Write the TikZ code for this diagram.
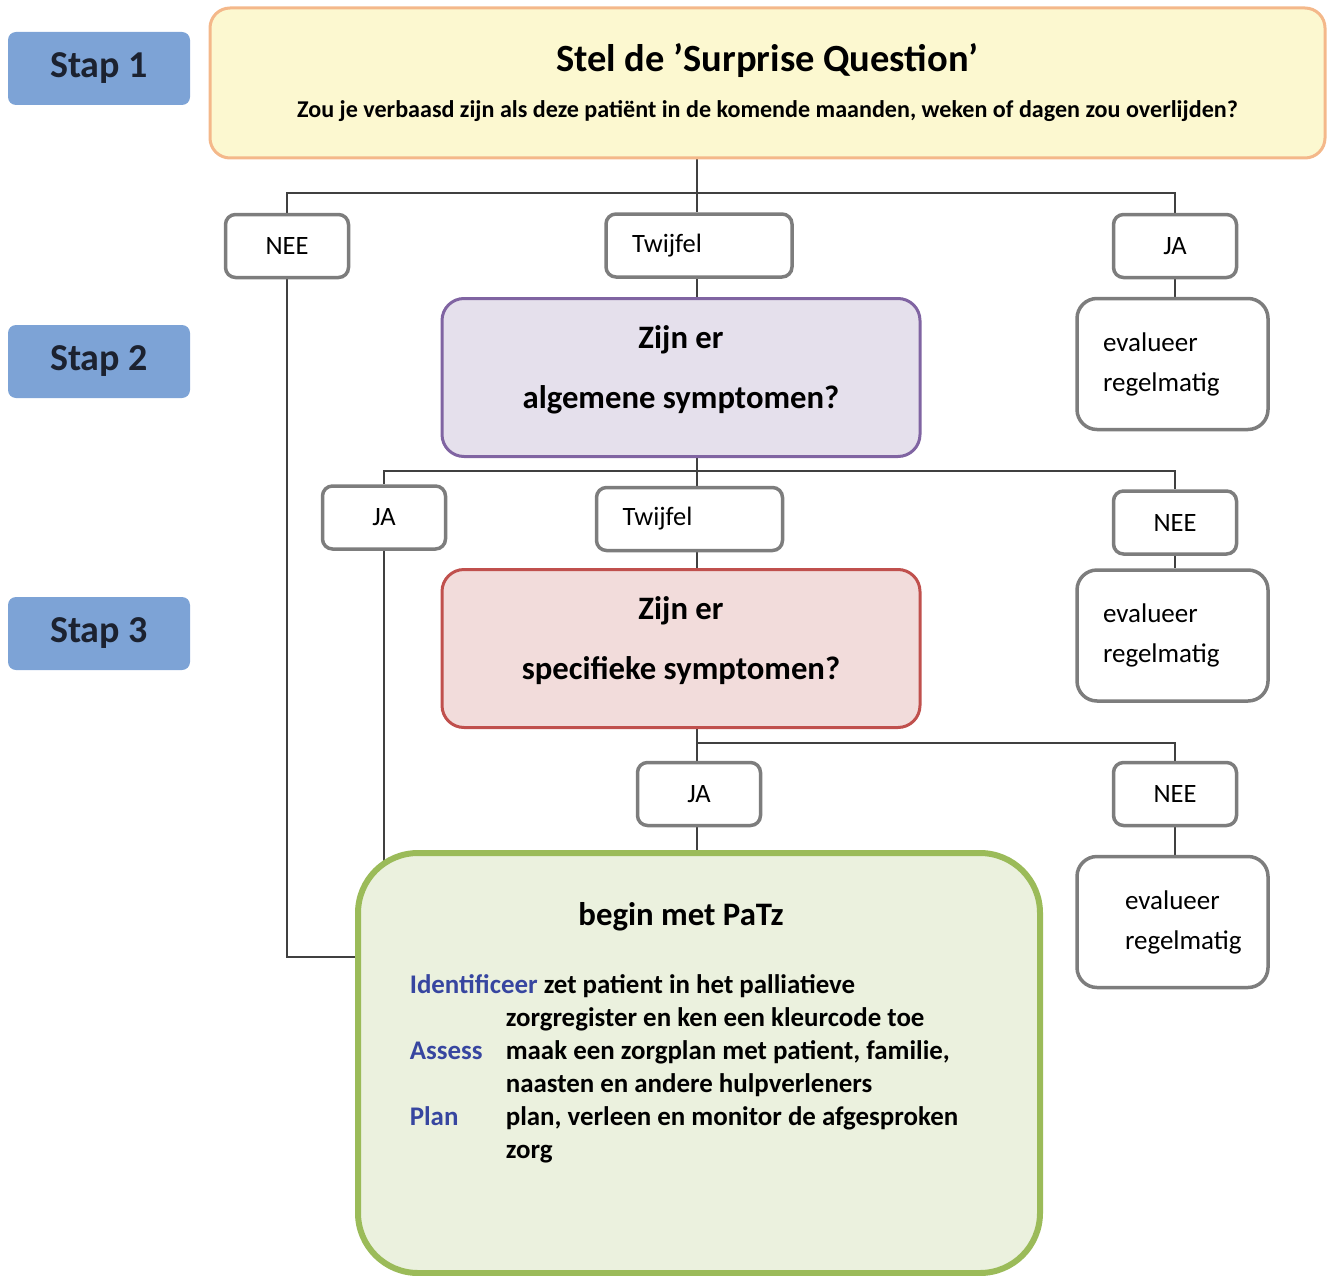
\documentclass[tikz,border=0pt]{standalone}
\usepackage{fontspec}
\setmainfont{Carlito}
\usepackage{xcolor}
\usepackage{tikz}
\usetikzlibrary{positioning,backgrounds}

\definecolor{stapblue}{RGB}{125,163,214}
\definecolor{stapink}{RGB}{28,34,48}
\definecolor{qyellow}{RGB}{252,248,208}
\definecolor{qorange}{RGB}{244,184,138}
\definecolor{qlila}{RGB}{229,224,236}
\definecolor{qpurple}{RGB}{128,100,162}
\definecolor{qpink}{RGB}{242,220,219}
\definecolor{qred}{RGB}{192,80,77}
\definecolor{patzfill}{RGB}{235,241,222}
\definecolor{patzgreen}{RGB}{155,187,89}
\definecolor{boxgray}{RGB}{125,125,125}
\definecolor{linegray}{RGB}{64,64,64}
\definecolor{pazblue}{RGB}{55,70,160}

\newcommand{\pxsize}[2]{\fontsize{#1}{#2}\selectfont}

\begin{document}
\begin{tikzpicture}[x=1pt, y=-1pt,
  stapbox/.style={rectangle, rounded corners=8pt, fill=stapblue, minimum width=182pt, minimum height=73pt, text=stapink, font=\bfseries\pxsize{38}{38}},
  answer/.style={rectangle, rounded corners=10pt, draw=boxgray, line width=3.5pt, fill=white, minimum width=123pt, minimum height=63pt, font=\pxsize{26.5}{26.5}},
  doubt/.style={answer, text width=134pt, inner xsep=26pt, align=left},
  evalbox/.style={answer, rounded corners=20pt, text width=139pt, inner xsep=26pt, align=left, minimum height=131pt, font=\pxsize{27}{40}},
  question/.style={rectangle, rounded corners=22pt, line width=3pt, minimum width=478pt, minimum height=158pt, align=center, text depth=20pt, font=\bfseries\pxsize{32.7}{60}},
  link/.style={draw=linegray, line width=1.5pt}]
\useasboundingbox (0,0) rectangle (1327,1276);

% stappen links
\foreach \n/\y in {1/68.5, 2/361.5, 3/633.5} { \node (stap\n) [stapbox] at (99,\y) {Stap \n}; }

% stap 1
\node (q1) [rectangle, rounded corners=20pt, fill=qyellow, draw=qorange, line width=3pt, minimum width=1115pt, minimum height=150pt, align=center, font=\bfseries\pxsize{24.1}{46}] at (767.5,83)
  {{\pxsize{38.5}{46}Stel de ’Surprise Question’}\\Zou je verbaasd zijn als deze patiënt in de komende maanden, weken of dagen zou overlijden?};
\node (nee1) [answer] at (287,246) {NEE};
\node (tw1) [doubt] at (699,245.5) {Twijfel};
\node (ja1) [answer] at (1175,246) {JA};
\node (ev1) [evalbox] at (1172.5,364) {evalueer\\regelmatig};

% stap 2
\node (q2) [question, fill=qlila, draw=qpurple] at (681,377.5) {Zijn er\\algemene symptomen?};
\node (ja2) [answer] at (384,517.5) {JA};
\node (tw2) [doubt] at (689.5,519) {Twijfel};
\node (nee2) [answer] at (1175,522.5) {NEE};
\node (ev2) [evalbox] at (1172.5,635.5) {evalueer\\regelmatig};

% stap 3
\node (q3) [question, fill=qpink, draw=qred] at (681,648.5) {Zijn er\\specifieke symptomen?};
\node (ja3) [answer] at (699,794) {JA};
\node (nee3) [answer] at (1175,794) {NEE};
\node (ev3) [evalbox] at (1172.5,922) {\hspace*{22pt}evalueer\\\hspace*{22pt}regelmatig};

% PaTz
\node (patz) [rectangle, rounded corners=60pt, draw=patzgreen, line width=6pt, fill=patzfill, minimum width=682pt, minimum height=420pt, font=\bfseries\pxsize{26.9}{33}] at (699,1063) {%
  \begin{tabular}{@{}p{96pt}@{}l@{\hspace{30pt}}}
  \multicolumn{2}{@{}c@{\hspace{36pt}}}{\pxsize{32.8}{33}begin met PaTz}\\[35pt]
  \multicolumn{2}{@{}l@{\hspace{30pt}}}{\textcolor{pazblue}{Identificeer} zet patient in het palliatieve}\\
   & zorgregister en ken een kleurcode toe\\
  \textcolor{pazblue}{Assess} & maak een zorgplan met patient, familie,\\
   & naasten en andere hulpverleners\\
  \textcolor{pazblue}{Plan} & plan, verleen en monitor de afgesproken\\
   & zorg\\[56pt]
  \end{tabular}};

% lijnen
\coordinate (bus1) at (697,193);
\coordinate (bus2) at (697,471);
\coordinate (bus3) at (697,743);
\coordinate (knik) at (287,957);
\begin{scope}[on background layer]
\draw[link] (bus1 |- q1.south) -- (bus1);
\draw[link] (nee1.north) |- (bus1) -| (ja1.north);
\draw[link] (bus1) -- (bus1 |- tw1.north);
\draw[link] (bus1 |- tw1.south) -- (bus1 |- q2.north);
\draw[link] (ja1.south) -- (ja1.south |- ev1.north);
\draw[link] (nee1.south) -- (knik) -- (knik -| patz.west);
\draw[link] (bus2 |- q2.south) -- (bus2);
\draw[link] (ja2.north) |- (bus2) -| (nee2.north);
\draw[link] (bus2) -- (bus2 |- tw2.north);
\draw[link] (bus2 |- tw2.south) -- (bus2 |- q3.north);
\draw[link] (nee2.south) -- (nee2.south |- ev2.north);
\draw[link] (ja2.south) -- (ja2.south |- patz.center);
\draw[link] (bus3 |- q3.south) -- (bus3) -| (nee3.north);
\draw[link] (bus3) -- (bus3 |- ja3.north);
\draw[link] (bus3 |- ja3.south) -- (bus3 |- patz.north);
\draw[link] (nee3.south) -- (nee3.south |- ev3.north);
\end{scope}
\end{tikzpicture}
\end{document}
